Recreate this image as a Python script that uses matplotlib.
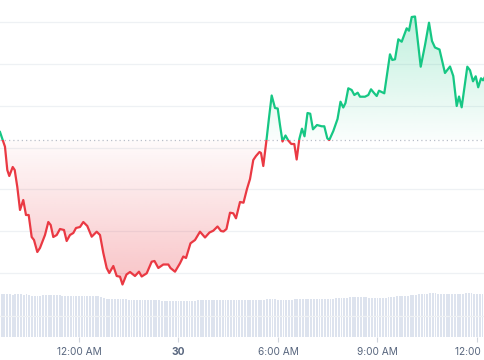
import numpy as np
import matplotlib
matplotlib.use("Agg")
import matplotlib.pyplot as plt
from matplotlib.path import Path
from matplotlib.patches import Rectangle

# ---- data (time in minutes relative to 12:00 AM) ----
price_minutes = [
    -142.9, -138.0, -133.9, -129.7, -126.1, -119.9, -116.3, -111.6, -106.7, -100.8,
    -95.9, -91.0, -85.6, -81.4, -75.4, -70.6, -61.5, -55.5, -51.2, -46.5,
    -40.3, -34.4, -27.1, -22.3, -16.3, -10.3, -5.4, 1.8, 7.8, 15.0,
    23.0, 32.0, 38.0, 44.0, 50.1, 54.8, 62.1, 68.2, 74.2, 78.7,
    85.9, 92.3, 101.3, 108.5, 113.4, 122.5, 131.5, 136.6, 143.5, 152.5,
    161.6, 165.5, 173.7, 182.7, 188.7, 193.6, 201.7, 209.9, 218.9, 228.0,
    236.1, 243.0, 250.6, 256.9, 261.4, 266.8, 273.2, 279.1, 284.0, 291.3,
    297.6, 303.9, 309.4, 315.3, 320.2, 326.5, 329.3, 333.4, 339.2, 343.7,
    348.6, 354.6, 359.5, 363.6, 368.2, 373.6, 378.6, 384.1, 389.5, 393.8,
    398.6, 403.4, 408.0, 413.4, 418.3, 423.3, 430.6, 439.1, 443.8, 449.2,
    452.8, 460.1, 467.7, 473.1, 478.1, 482.1, 487.2, 493.3, 498.1, 504.2,
    508.4, 517.4, 523.4, 528.3, 534.2, 538.6, 542.7, 552.3, 562.6, 566.8,
    571.7, 577.7, 583.8, 592.8, 597.0, 601.9, 607.9, 618.2, 626.0, 633.2,
    638.6, 644.0, 652.2, 662.1, 671.2, 677.1, 683.3, 687.5, 692.3, 702.5,
    707.4, 712.8, 717.7, 722.2, 727.3, 730.9, 734.5, 739.9,
]
prices = [
    268, 260, 253.3, 230, 224, 233, 230, 213, 190, 200,
    185, 185, 163, 160, 148, 152, 165, 178, 175, 163,
    165, 171, 170, 159, 165, 167, 172, 173, 178, 174,
    163.3, 168.3, 165, 147, 132, 127, 134, 124, 123.3, 115.5,
    125.5, 128, 124, 128.3, 123.5, 126.7, 138.3, 139, 132, 135.5,
    135.5, 132, 128.3, 136.7, 143.5, 142, 156.7, 160, 168.3, 162.5,
    167.5, 169.3, 173.5, 169, 168.5, 171, 187.3, 186.7, 181.7, 198,
    197.3, 211, 221, 240, 244, 248, 247, 234, 260, 282,
    304.5, 292, 291.5, 275, 258.5, 264.5, 259.5, 256, 256, 240.5,
    261, 271.3, 263.7, 287, 286.3, 270.7, 275, 273.7, 273.7, 261.7,
    260, 269, 281, 298.3, 292.5, 297, 311.7, 310, 305, 307.3,
    303.3, 303.3, 305, 310.7, 306.7, 304, 309.3, 306.7, 345.7, 340,
    340.7, 360.7, 358.3, 371.7, 369.3, 383, 383.5, 333.3, 355, 377.3,
    359, 352.5, 350.5, 327, 333.5, 324, 294, 303.5, 292.7, 333.3,
    329.7, 318.7, 323.7, 312.7, 321.7, 319.7, 323.3, 323,
]
baseline_price = 260.0
grid_levels = [84.3, 126.7, 169.0, 210.7, 252.3, 293.7, 335.7, 377.7]

volume_start_min = -140
volume_step_min = 5
volumes = [
    42.8, 42.6, 42.9, 42.7, 42.5, 42.8, 42.6, 42.7, 42.4, 42.6, 42.3,
    41.4, 41.2, 41.5, 41.3, 41.6,
    42.1, 41.9, 42.2, 42.0, 41.8, 41.7,
    41.2, 41.0, 41.3, 41.1, 40.9, 41.2, 41.0, 41.3, 41.1, 41.0, 40.8, 41.1, 40.9, 40.7,
    39.9, 39.5,
    38.3, 38.0, 38.2, 37.9, 38.1, 37.8, 38.0, 37.7, 37.5,
    37.2, 37.0, 36.9, 37.2, 37.0, 36.8, 37.1, 36.9, 37.0, 36.7, 36.6, 36.5, 36.4,
    36.1, 35.9, 36.2, 36.0, 35.8, 36.1, 35.9, 36.0, 36.2, 36.3, 36.5,
    36.8, 37.0, 36.9, 37.1, 37.0, 36.8, 37.2, 37.0, 36.9, 37.1, 37.3, 37.2, 37.0, 36.9,
    36.7, 36.9, 37.0, 36.8, 37.1, 36.9, 37.0, 37.2, 37.1, 37.3, 37.4,
    38.4, 38.2, 38.5, 38.1,
    37.4, 37.2, 37.5, 37.3, 37.1, 37.4, 37.6,
    38.0, 38.2, 37.9, 38.1, 38.0, 38.3, 37.8, 38.0, 38.2, 38.1, 37.9, 38.0,
    37.7, 37.6,
    38.6, 38.8, 38.7, 38.9, 39.1,
    39.6, 39.8, 39.7, 39.9, 39.6, 39.8, 39.7, 39.5, 39.3,
    39.0, 39.2, 38.9, 39.1, 39.4,
    40.2, 40.4, 40.3, 40.6,
    41.2, 41.4, 41.3, 41.5, 41.6, 41.9,
    42.5, 42.7, 42.8, 42.6, 42.9,
    43.6, 43.8, 43.7, 43.5,
    43.0, 43.1, 42.9, 43.2, 43.0, 42.9, 43.1, 43.0, 43.2,
    43.6, 43.8, 43.7, 43.5,
    43.0, 43.1, 42.9,
]

tick_minutes = [0, 180, 360, 540, 720]
tick_labels = ["12:00 AM", "30", "6:00 AM", "9:00 AM", "12:00 PM"]

# ---- style ----
GREEN = "#16c784"
RED = "#ea3943"
X_MIN, X_MAX = -142.9, 734.5
Y_MIN, Y_MAX = 63.0, 400.0

plt.rcParams["font.family"] = ["Inter", "DejaVu Sans"]

t = np.array(price_minutes)
p = np.array(prices)

fig = plt.figure(figsize=(4.85, 3.6), dpi=100)
pos = [0, 23 / 360, 1, 337 / 360]
axv = fig.add_axes(pos)
ax = fig.add_axes(pos)
ax.patch.set_alpha(0)

# volume
vt = volume_start_min + volume_step_min * np.arange(len(volumes))
axv.bar(vt, volumes, width=3.4, color="#dde3ee", linewidth=0, zorder=1)
axv.set_xlim(X_MIN, X_MAX)
axv.set_ylim(0, 337)
axv.axis("off")

# grid
for g in grid_levels:
    ax.axhline(g, color="#eef1f4", lw=0.9, zorder=0.5)


def gradient_fill(mask_where, y0, y1, rgb, a0, a1):
    coll = ax.fill_between(t, p, baseline_price, where=mask_where, interpolate=True)
    paths = coll.get_paths()
    coll.remove()
    cpath = Path.make_compound_path(*paths)
    n = 256
    arr = np.zeros((n, 1, 4))
    arr[..., :3] = matplotlib.colors.to_rgb(rgb)
    arr[:, 0, 3] = np.linspace(a0, a1, n)
    im = ax.imshow(arr, extent=[X_MIN, X_MAX, y0, y1], origin="lower",
                   aspect="auto", interpolation="bilinear", zorder=1)
    im.set_clip_path(cpath, transform=ax.transData)


gradient_fill(p <= baseline_price, p.min(), baseline_price, RED, 0.30, 0.02)
gradient_fill(p >= baseline_price, baseline_price, p.max(), GREEN, 0.02, 0.27)

ax.axhline(baseline_price, color="#b9bfc9", lw=0.9, ls=(0, (1, 2.4)), zorder=2)

clip_up = Rectangle((X_MIN - 500, baseline_price), 3000, 1000, transform=ax.transData)
clip_dn = Rectangle((X_MIN - 500, baseline_price - 1000), 3000, 1000, transform=ax.transData)
lg, = ax.plot(t, p, color=GREEN, lw=1.6, solid_joinstyle="round", zorder=3)
lg.set_clip_path(clip_up)
lr, = ax.plot(t, p, color=RED, lw=1.6, solid_joinstyle="round", zorder=3)
lr.set_clip_path(clip_dn)

ax.set_xlim(X_MIN, X_MAX)
ax.set_ylim(Y_MIN, Y_MAX)
for s in ax.spines.values():
    s.set_visible(False)
ax.set_yticks([])
ax.set_xticks(tick_minutes, tick_labels)
ax.tick_params(axis="x", direction="out", length=3.5, width=0.8, color="#d0d5dd",
               pad=3.5, labelsize=7.3, labelcolor="#58667e")
ax.get_xticklabels()[1].set_fontweight("bold")

fig.savefig("out.png", dpi=100)
